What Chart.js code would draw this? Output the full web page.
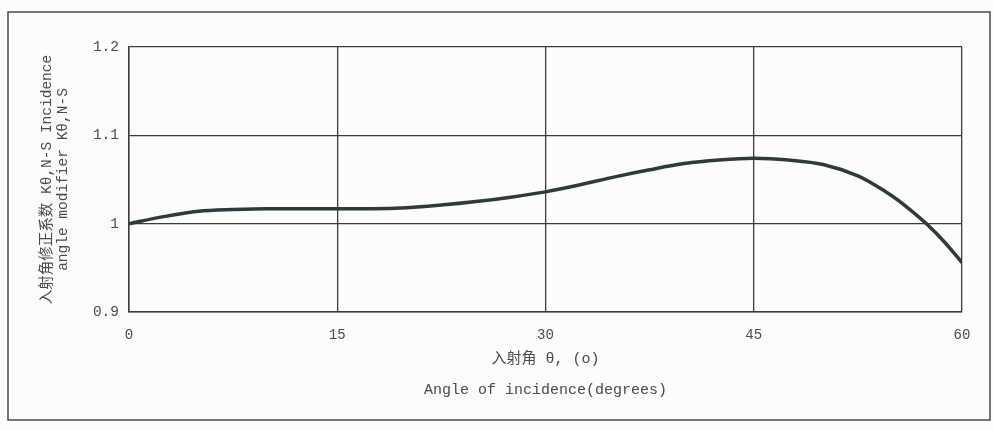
<!DOCTYPE html>
<html>
<head>
<meta charset="utf-8">
<script src="https://cdn.jsdelivr.net/npm/chart.js@4"></script>
<style>
  html, body { margin: 0; padding: 0; background: #fcfcfc; }
  #wrap { width: 993px; height: 430px; position: relative; }
</style>
</head>
<body>
<div id="wrap"><canvas id="c" width="993" height="430"></canvas></div>
<script>
// Angle of incidence (degrees)
const angles = [0, 2.5, 5, 7.5, 10, 12.5, 15, 17.5, 20, 22.5, 25, 27.5, 30, 32.5, 35, 37.5, 40, 42.5, 45, 47.5, 50, 52.5, 53.75, 55, 56.25, 57.5, 58.75, 60];
// Incidence angle modifier K theta, N-S
const modifier = [1.000, 1.008, 1.014, 1.016, 1.017, 1.017, 1.017, 1.017, 1.018, 1.021, 1.025, 1.030, 1.036, 1.044, 1.053, 1.061, 1.068, 1.072, 1.074, 1.072, 1.067, 1.054, 1.0435, 1.031, 1.016, 0.999, 0.979, 0.956];
const xTickLabels = ['0', '15', '30', '45', '60'];
const yTickLabels = ['0.9', '1', '1.1', '1.2'];
const xTickValues = [0, 15, 30, 45, 60];
const yTickValues = [0.9, 1.0, 1.1, 1.2];
const yTitle = ['入射角修正系数 Kθ,N-S Incidence', 'angle modifier Kθ,N-S'];
const xTitle = ['入射角 θ, (o)', 'Angle of incidence(degrees)'];

const FONT = '"Liberation Mono", "Noto Sans CJK SC", monospace';
const TEXT = '#4a4a4a';
const GRID = '#3c3c3c';

const framePlugin = {
  id: 'frame',
  beforeDraw(chart) {
    const ctx = chart.ctx;
    ctx.save();
    ctx.fillStyle = '#fcfcfc';
    ctx.fillRect(0, 0, chart.width, chart.height);
    ctx.strokeStyle = '#555';
    ctx.lineWidth = 1.6;
    ctx.strokeRect(8, 12, 982, 408);
    ctx.restore();
  }
};

new Chart(document.getElementById('c'), {
  type: 'scatter',
  data: {
    datasets: [{
      data: angles.map((a, i) => ({ x: a, y: modifier[i] })),
      showLine: true,
      borderColor: '#2e3a3c',
      borderWidth: 3.5,
      pointRadius: 0,
      cubicInterpolationMode: 'monotone',
      fill: false
    }]
  },
  options: {
    responsive: false,
    animation: false,
    layout: { padding: { left: 0, right: 31, top: 47, bottom: 0 } },
    plugins: { legend: { display: false }, tooltip: { enabled: false } },
    scales: {
      x: {
        type: 'linear', min: 0, max: 60,
        afterBuildTicks(scale) { scale.ticks = xTickValues.map(v => ({ value: v })); },
        afterFit(scale) { scale.height = 118; },
        ticks: {
          callback: (v) => xTickLabels[xTickValues.indexOf(v)],
          color: TEXT, font: { family: FONT, size: 14 }, padding: 15, maxRotation: 0
        },
        grid: { color: GRID, lineWidth: 1.3, drawTicks: false },
        border: { color: GRID, width: 1.5 },
        title: {
          display: true, text: xTitle, color: TEXT,
          font: { family: FONT, size: 15, lineHeight: 2.1 },
          padding: { top: 4, bottom: 24 }
        }
      },
      y: {
        type: 'linear', min: 0.9, max: 1.2,
        afterBuildTicks(scale) { scale.ticks = yTickValues.map(v => ({ value: v })); },
        afterFit(scale) { scale.width = 129; },
        ticks: {
          callback: (v) => yTickLabels[yTickValues.findIndex(t => Math.abs(t - v) < 1e-6)],
          color: TEXT, font: { family: FONT, size: 14.5 }, padding: 10
        },
        grid: { color: GRID, lineWidth: 1.3, drawTicks: false },
        border: { color: GRID, width: 1.5 },
        title: {
          display: true, text: yTitle, color: TEXT,
          font: { family: FONT, size: 14.5, lineHeight: 1.1 },
          padding: { top: 39, bottom: 0 }
        }
      }
    }
  },
  plugins: [framePlugin]
});
</script>
</body>
</html>
